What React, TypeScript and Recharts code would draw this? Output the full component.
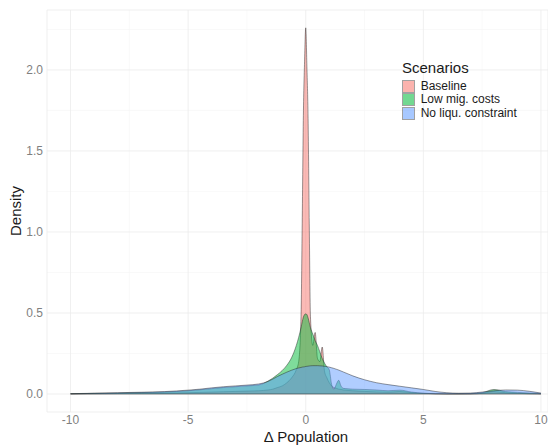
import React from 'react';
import { ComposedChart, Area, XAxis, YAxis, CartesianGrid, ReferenceLine, Label } from 'recharts';

// Δ population grid (finer around zero where the peaks are)
const xValues = [
  -10, -9, -8, -7, -6, -5, -4.5, -4, -3.5, -3, -2.5, -2, -1.8, -1.6, -1.4, -1.2, -1.0, -0.8, -0.6, -0.4,
  -0.3, -0.2, -0.15, -0.1, -0.05, 0, 0.05, 0.1, 0.15, 0.2, 0.3, 0.4, 0.5, 0.6, 0.7, 0.8, 0.9, 1.0, 1.1, 1.2,
  1.3, 1.4, 1.5, 1.6, 1.8, 2, 2.5, 3, 3.5, 4, 4.5, 5, 5.5, 6, 6.5, 7, 7.5, 8, 8.5, 9, 9.5, 10,
];

const baseline = [
  0.001, 0.002, 0.003, 0.004, 0.005, 0.008, 0.01, 0.012, 0.014, 0.016, 0.018, 0.02, 0.022, 0.025, 0.03, 0.04, 0.05, 0.07, 0.1, 0.15,
  0.2, 0.48, 1.05, 1.72, 2.05, 2.26, 2.02, 1.7, 1.05, 0.48, 0.3, 0.38, 0.22, 0.2, 0.29, 0.14, 0.1, 0.07, 0.05, 0.04,
  0.035, 0.03, 0.028, 0.025, 0.022, 0.02, 0.016, 0.013, 0.011, 0.015, 0.008, 0.004, 0.002, 0.001, 0.001, 0.001, 0.004, 0.015, 0.008, 0.004, 0.002, 0.001,
];

const lowMigCosts = [
  0.001, 0.004, 0.006, 0.009, 0.012, 0.02, 0.026, 0.033, 0.04, 0.045, 0.05, 0.056, 0.065, 0.08, 0.098, 0.12, 0.145, 0.178, 0.225, 0.3,
  0.35, 0.41, 0.445, 0.475, 0.49, 0.495, 0.49, 0.47, 0.44, 0.41, 0.37, 0.33, 0.3, 0.26, 0.22, 0.19, 0.168, 0.15, 0.06, 0.03,
  0.06, 0.085, 0.05, 0.035, 0.032, 0.03, 0.028, 0.025, 0.02, 0.024, 0.012, 0.005, 0.002, 0.001, 0.001, 0.002, 0.008, 0.028, 0.015, 0.01, 0.006, 0.002,
];

const noLiquConstraint = [
  0.002, 0.005, 0.008, 0.011, 0.015, 0.024, 0.03, 0.038, 0.045, 0.05, 0.055, 0.062, 0.068, 0.078, 0.092, 0.108, 0.122, 0.135, 0.147, 0.157,
  0.161, 0.164, 0.166, 0.167, 0.168, 0.17, 0.171, 0.172, 0.173, 0.174, 0.175, 0.175, 0.175, 0.174, 0.173, 0.171, 0.169, 0.166, 0.162, 0.158,
  0.153, 0.148, 0.142, 0.136, 0.124, 0.112, 0.088, 0.07, 0.058, 0.048, 0.038, 0.028, 0.016, 0.008, 0.005, 0.006, 0.012, 0.02, 0.025, 0.024, 0.017, 0.006,
];

const xTicks = [-10, -5, 0, 5, 10];
const yTicks = [0, 0.5, 1, 1.5, 2];
const xMinor = [-7.5, -2.5, 2.5, 7.5];
const yMinor = [0.25, 0.75, 1.25, 1.75, 2.25];

const scenarios = [
  { key: 'baseline', name: 'Baseline', color: '#F8766D' },
  { key: 'lowMig', name: 'Low mig. costs', color: '#00BA38' },
  { key: 'noLiq', name: 'No liqu. constraint', color: '#619CFF' },
];

const data = xValues.map((x, i) => ({
  x,
  baseline: baseline[i],
  lowMig: lowMigCosts[i],
  noLiq: noLiquConstraint[i],
}));

const font = '"Liberation Sans", Arial, sans-serif';

const ScenarioLegend: React.FC = () => (
  <div style={{ position: 'absolute', left: 402, top: 59, fontFamily: font, color: '#1a1a1a' }}>
    <div style={{ fontSize: 15, lineHeight: '17px', whiteSpace: 'nowrap' }}>Scenarios</div>
    {scenarios.map((s, i) => (
      <div key={s.key} style={{ position: 'absolute', left: 0, top: 21 + i * 13.3, whiteSpace: 'nowrap' }}>
        <div
          style={{
            position: 'absolute',
            left: 0,
            top: 0,
            width: 11,
            height: 11,
            background: s.color,
            opacity: 0.55,
            border: '0.5px solid #555',
          }}
        />
        <div style={{ position: 'absolute', left: 18.7, top: 0, fontSize: 12, lineHeight: '12px' }}>{s.name}</div>
      </div>
    ))}
  </div>
);

export default function App() {
  return (
    <div style={{ position: 'absolute', left: 0, top: 0, width: 548, height: 448, fontFamily: font, background: '#fff' }}>
      <ComposedChart width={548} height={448} data={data} margin={{ top: 10, right: 0, bottom: 0, left: 0 }}>
        <CartesianGrid verticalValues={xMinor} horizontalValues={yMinor} stroke="#f5f5f5" strokeWidth={0.6} />
        <CartesianGrid stroke="#ebebeb" strokeWidth={0.8} />
        <XAxis
          type="number"
          dataKey="x"
          domain={[-11, 10.3]}
          ticks={xTicks}
          allowDataOverflow
          axisLine={false}
          tickLine={false}
          tickSize={0}
          tickMargin={3}
          height={36}
          tick={{ fill: '#7f7f7f', fontSize: 12 }}
        >
          <Label value="Δ Population" position="insideBottom" offset={6} dx={8.5} fill="#1a1a1a" fontSize={15} />
        </XAxis>
        <YAxis
          type="number"
          domain={[-0.111, 2.37]}
          ticks={yTicks}
          allowDataOverflow
          axisLine={false}
          tickLine={false}
          tickSize={0}
          tickMargin={4}
          width={47}
          tickFormatter={(v: number) => v.toFixed(1)}
          tick={{ fill: '#7f7f7f', fontSize: 12 }}
        >
          <Label value="Density" position="center" angle={-90} dx={-7.5} fill="#1a1a1a" fontSize={15} />
        </YAxis>
        {scenarios.map((s) => (
          <Area
            key={s.key}
            type="monotone"
            dataKey={s.key}
            name={s.name}
            baseValue={0}
            fill={s.color}
            fillOpacity={0.5}
            stroke="#1f1f1f"
            strokeOpacity={0.75}
            strokeWidth={0.6}
            dot={false}
            activeDot={false}
            isAnimationActive={false}
          />
        ))}
        <ReferenceLine
          segment={[
            { x: -10, y: 0 },
            { x: 10, y: 0 },
          ]}
          stroke="#333"
          strokeWidth={0.6}
        />
      </ComposedChart>
      <ScenarioLegend />
    </div>
  );
}
